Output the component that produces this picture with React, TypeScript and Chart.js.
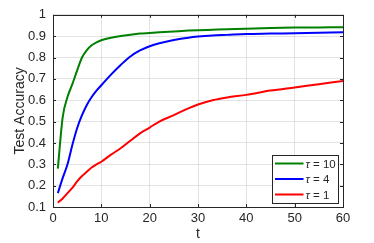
import React, { useEffect, useRef } from "react";
import { Chart, registerables } from "chart.js";

Chart.register(...registerables);

const tValues = [1, 2, 3, 4, 5, 6, 7, 8, 9, 10, 12, 14, 16, 18, 20, 22, 25, 28, 30, 33, 36, 40, 45, 50, 55, 60];
const tau10 = [0.28, 0.52, 0.615, 0.675, 0.74, 0.8, 0.835, 0.857, 0.871, 0.881, 0.893, 0.901, 0.907, 0.912, 0.915, 0.918, 0.922, 0.926, 0.928, 0.93, 0.932, 0.935, 0.938, 0.94, 0.941, 0.942];
const tau4 = [0.165, 0.235, 0.3, 0.39, 0.47, 0.53, 0.578, 0.615, 0.645, 0.67, 0.72, 0.765, 0.805, 0.833, 0.853, 0.867, 0.882, 0.893, 0.898, 0.903, 0.906, 0.91, 0.912, 0.914, 0.916, 0.918];
const tau1 = [0.12, 0.14, 0.165, 0.19, 0.22, 0.245, 0.265, 0.285, 0.3, 0.312, 0.345, 0.375, 0.41, 0.445, 0.472, 0.5, 0.53, 0.562, 0.58, 0.6, 0.613, 0.625, 0.645, 0.66, 0.675, 0.69];
const seriesLabels = ["10", "4", "1"];
const seriesColors = ["#008000", "#0000ff", "#ff0000"];
const xTitle = "t";
const yTitle = "Test Accuracy";

const AXIS = "#262626";
const FONT = "'Liberation Sans', Arial, sans-serif";
const NARROW = "'Liberation Sans Narrow', 'Liberation Sans', Arial, sans-serif";

const boxPlugin = {
  id: "matlabBox",
  afterDatasetsDraw(chart: any) {
    const { ctx, chartArea } = chart;
    const { left, right, top, bottom } = chartArea;
    ctx.save();
    ctx.strokeStyle = AXIS;
    ctx.lineWidth = 1;
    const xs = chart.scales.x;
    const ys = chart.scales.y;
    ctx.beginPath();
    xs.ticks.forEach((t: any) => {
      const px = Math.round(xs.getPixelForValue(t.value)) + 0.5;
      ctx.moveTo(px, bottom);
      ctx.lineTo(px, bottom - 3);
      ctx.moveTo(px, top);
      ctx.lineTo(px, top + 3);
    });
    ys.ticks.forEach((t: any) => {
      const py = Math.round(ys.getPixelForValue(t.value)) + 0.5;
      ctx.moveTo(left, py);
      ctx.lineTo(left + 3, py);
      ctx.moveTo(right, py);
      ctx.lineTo(right - 3, py);
    });
    ctx.stroke();
    ctx.strokeRect(Math.round(left) + 0.5, Math.round(top) + 0.5, Math.round(right - left), Math.round(bottom - top));

    // legend
    const lw = 66, lh = 48;
    const lx = Math.round(right) - 5 - lw + 0.5;
    const ly = Math.round(bottom) - 4 - lh + 0.5;
    ctx.fillStyle = "#ffffff";
    ctx.fillRect(lx, ly, lw, lh);
    ctx.strokeStyle = AXIS;
    ctx.strokeRect(lx, ly, lw, lh);
    chart.data.datasets.forEach((ds: any, i: number) => {
      const yy = ly + 8 + i * 15.5;
      ctx.strokeStyle = ds.borderColor;
      ctx.lineWidth = 2;
      ctx.beginPath();
      ctx.moveTo(lx + 2.5, yy);
      ctx.lineTo(lx + 31, yy);
      ctx.stroke();
      ctx.fillStyle = AXIS;
      ctx.textBaseline = "middle";
      ctx.textAlign = "left";
      ctx.font = `italic 11.5px ${FONT}`;
      ctx.fillText("\u03C4", lx + 33, yy + 1);
      const w = ctx.measureText("\u03C4").width;
      ctx.font = `11.5px ${FONT}`;
      ctx.fillText(" = " + seriesLabels[i], lx + 33 + w, yy + 1);
    });
    ctx.restore();
  },
};

export default function App() {
  const ref = useRef<HTMLCanvasElement | null>(null);
  useEffect(() => {
    if (!ref.current) return;
    const series = [tau10, tau4, tau1];
    const chart = new Chart(ref.current, {
      type: "line",
      data: {
        datasets: series.map((s, i) => ({
          label: "\u03C4 = " + seriesLabels[i],
          data: s.map((v, j) => ({ x: tValues[j], y: v })),
          borderColor: seriesColors[i],
          backgroundColor: seriesColors[i],
          borderWidth: 2,
          pointRadius: 0,
          cubicInterpolationMode: "monotone",
          fill: false,
        })),
      },
      options: {
        responsive: false,
        animation: false,
        devicePixelRatio: 1,
        layout: { padding: { top: 8, right: 31, left: 0, bottom: 0 } },
        plugins: { legend: { display: false }, tooltip: { enabled: false } },
        scales: {
          x: {
            type: "linear",
            min: 0,
            max: 60,
            ticks: { stepSize: 10, color: AXIS, font: { family: NARROW, size: 13 }, padding: 4, maxRotation: 0 },
            grid: { color: "rgba(38,38,38,0.13)", drawTicks: false },
            border: { display: false },
            title: { display: true, text: xTitle, color: AXIS, font: { family: NARROW, size: 14 }, padding: { top: 0, bottom: 0 } },
            afterFit: (s: any) => { s.height = 36; },
          },
          y: {
            type: "linear",
            min: 0.1,
            max: 1,
            ticks: {
              stepSize: 0.1,
              color: AXIS,
              font: { family: NARROW, size: 13 },
              padding: 7,
              callback: (v: any) => String(Number(Number(v).toFixed(1))),
            },
            grid: { color: "rgba(38,38,38,0.13)", drawTicks: false },
            border: { display: false },
            title: { display: true, text: yTitle, color: AXIS, font: { family: FONT, size: 14 }, padding: { top: 12, bottom: 0 } },
            afterFit: (s: any) => { s.width = 53; },
          },
        },
      },
      plugins: [boxPlugin],
    });
    return () => chart.destroy();
  }, []);
  return (
    <div style={{ position: "fixed", left: 0, top: 0, width: 374, height: 243, background: "#fff" }}>
      <canvas ref={ref} width={374} height={243} style={{ width: 374, height: 243, display: "block" }} />
    </div>
  );
}
